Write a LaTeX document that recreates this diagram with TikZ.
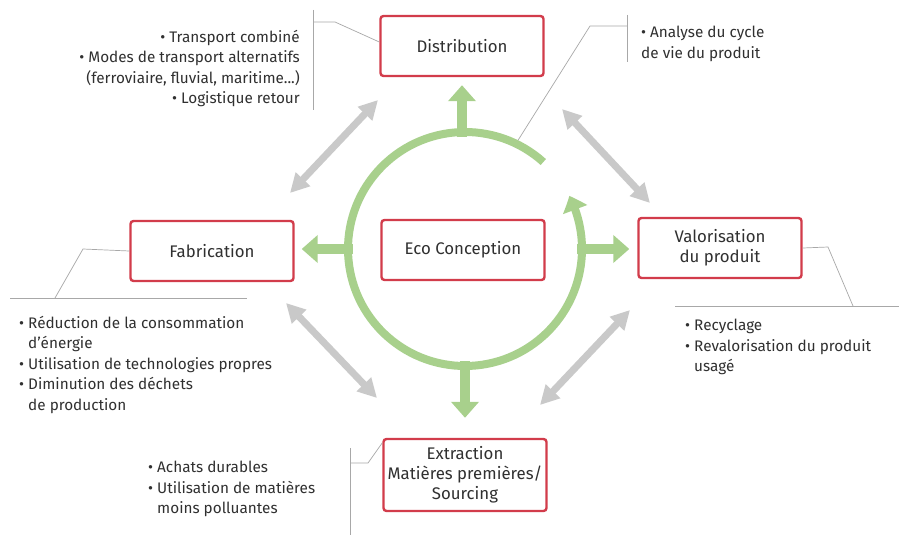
\documentclass[tikz,border=0pt]{standalone}
\usepackage{fontspec}
\setmainfont{Fira Sans}
\usetikzlibrary{arrows.meta,bending,calc}
\definecolor{ECRed}{HTML}{D23C4B}
\definecolor{ECGreen}{HTML}{A8D08C}
\definecolor{ECGrey}{HTML}{C9C9C9}
\definecolor{ECLine}{HTML}{A8A8A8}
\definecolor{ECText}{HTML}{303030}
\newcommand{\bl}{\textbullet\ }
\newcommand{\ind}{\hphantom{\textbullet\ }}
\tikzset{
    block/.style = {draw=ECRed, line width=2.4pt, rounded corners=3pt,
        fill=white, text=ECText, align=center,
        minimum height=60pt,
        minimum width=163pt,
        font=\fontsize{16.8}{20}\selectfont},
    notes/.style = {inner sep=0pt, text=ECText,
        font=\fontsize{15.3}{20.4}\selectfont},
    greenarrow/.style = {draw=ECGreen, line width=10pt,
        -{Triangle[width=27pt,length=16pt]}},
    ring/.style = {draw=ECGreen, line width=8pt,
        -{Triangle[width=25pt,length=15pt,bend]}},
    greyarrow/.style = {draw=ECGrey, line width=7pt,
        {Triangle[width=19pt,length=19pt]}-{Triangle[width=19pt,length=19pt]}},
    callout/.style = {draw=ECLine, line width=0.7pt}
}
\begin{document}
\begin{tikzpicture}[x=1pt,y=-1pt]
    \useasboundingbox[fill=white] (0,0) rectangle (899,535);
    \coordinate (c) at (465,249);
    % boxes
    \node[block] (dist) at (462,46) {Distribution};
    \node[block] (eco) at (463,250) {Eco Conception};
    \node[block] (fab) at (212,251) {Fabrication};
    \node[block] (valo) at (720,248) {Valorisation\\du produit};
    \node[block, minimum height=72pt] (extr) at (465,475) {Extraction\\Matières premières/\\Sourcing};
    % ring and green arrows
    \draw[greenarrow] ($(dist.south |- c)+(0,-112)$) -- ([yshift=-8pt]dist.south);
    \draw[greenarrow] ($(c)+(-112,0)$) -- ([xshift=7pt]fab.east |- c);
    \draw[greenarrow] ($(c)+(112,0)$) -- ([xshift=-8pt]valo.west |- c);
    \draw[greenarrow] ($(c)+(0,112)$) -- ([yshift=20pt]extr.north);
    \draw[ring] ($(c)+(-48:117)$) arc[start angle=-48, end angle=-387, radius=117];
    % grey double arrows
    \coordinate (tl1) at (290,193); \coordinate (tl2) at (378,100);
    \coordinate (tr1) at (562,109); \coordinate (tr2) at (650,203);
    \coordinate (bl1) at (286,303); \coordinate (bl2) at (377,398);
    \coordinate (br1) at (630,310); \coordinate (br2) at (540,405);
    \draw[greyarrow] (tl1) -- (tl2);
    \draw[greyarrow] (tr1) -- (tr2);
    \draw[greyarrow] (bl1) -- (bl2);
    \draw[greyarrow] (br1) -- (br2);
    % callout lines
    \draw[callout] ([yshift=4pt]dist.west) -- (335,22) -- (313,22);
    \draw[callout] (313,10) -- (313,110);
    \draw[callout] ($(c)+(-64:121)$) -- (590,26) -- (627,26);
    \draw[callout] (627,15) -- (627,62);
    \draw[callout] (fab.west) -- (83,249) -- (55,298);
    \draw[callout] (10,298) -- (247,298);
    \draw[callout] (valo.east) -- (828,247) -- (853,306);
    \draw[callout] (675,306) -- (899,306);
    \draw[callout] ([yshift=-5pt]extr.north west) -- (368,463) -- (350,463);
    \draw[callout] (350,448) -- (350,535);
    % notes
    \node[notes, anchor=north east, align=right] (distnotes) at (300,30)
        {\bl Transport combiné\\\bl Modes de transport alternatifs\\(ferroviaire, fluvial, maritime...)\\\bl Logistique retour};
    \node[notes, anchor=north west, align=left] (econotes) at (641,26)
        {\bl Analyse du cycle\\de vie du produit};
    \node[notes, anchor=north west, align=left] (fabnotes) at (19,316)
        {\bl Réduction de la consommation\\\ind d'énergie\\\bl Utilisation de technologies propres\\\bl Diminution des déchets\\\ind de production};
    \node[notes, anchor=north west, align=left] (valonotes) at (685,319)
        {\bl Recyclage\\\bl Revalorisation du produit\\\ind usagé};
    \node[notes, anchor=north west, align=left] (extrnotes) at (148,461)
        {\bl Achats durables\\\bl Utilisation de matières\\\ind moins polluantes};
\end{tikzpicture}
\end{document}
